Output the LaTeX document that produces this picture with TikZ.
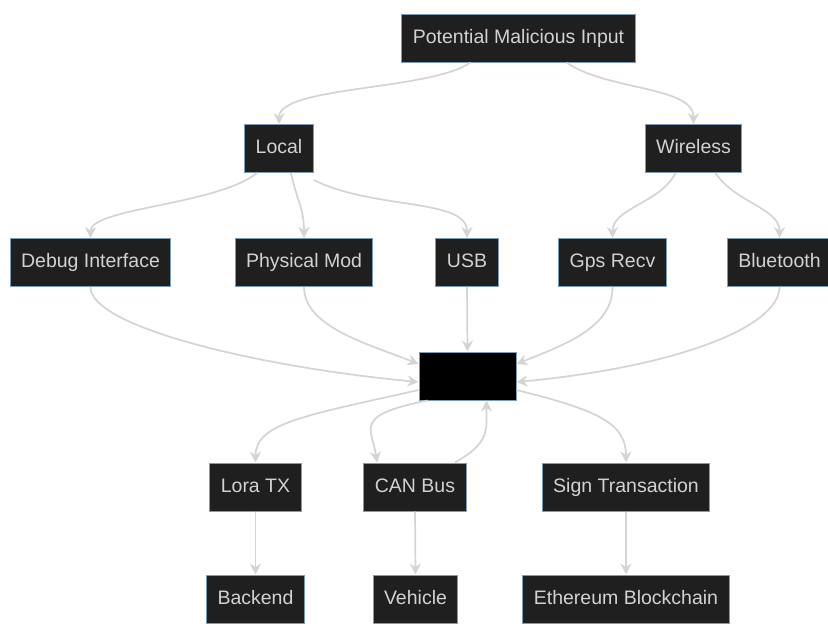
\documentclass[tikz,border=0pt]{standalone}
\usepackage{fontspec}
\setmainfont{Liberation Sans}
\usetikzlibrary{arrows.meta}
\definecolor{boxfill}{HTML}{1F1F1F}
\definecolor{boxline}{HTML}{7C9CBC}
\definecolor{boxtext}{HTML}{D2D2D2}
\definecolor{edgecol}{HTML}{D4D4D4}
\tikzset{
  box/.style={draw=boxline, line width=1pt, fill=boxfill, text=boxtext,
    font=\fontsize{19.5}{23}\selectfont, minimum height=48pt, inner xsep=11pt,
    inner ysep=0pt, text height=14pt, text depth=4pt, anchor=center},
  blackbox/.style={draw=boxline, line width=1pt, fill=black, minimum width=97pt, minimum height=48pt},
  edge/.style={draw=edgecol, line width=1.7pt, -{Stealth[length=11pt,width=11pt]}}
}
\begin{document}
\begin{tikzpicture}[x=1pt,y=-1pt]
\useasboundingbox[fill=white] (0,0) rectangle (828,624);
\node[box] (pmi) at (518.5,38) {Potential Malicious Input};
\node[box] (local) at (279,148.5) {Local};
\node[box] (wireless) at (693.5,148.5) {Wireless};
\node[box] (debug) at (90.5,262.5) {Debug Interface};
\node[box] (phys) at (304,262.5) {Physical Mod};
\node[box] (usb) at (467,262.5) {USB};
\node[box] (gps) at (612.5,262.5) {Gps Recv};
\node[box] (bt) at (779.5,262.5) {Bluetooth};
\node[blackbox] (core) at (467.5,376) {};
\node[box] (lora) at (255.5,487) {Lora TX};
\node[box] (can) at (415,487) {CAN Bus};
\node[box] (sign) at (626,487) {Sign Transaction};
\node[box] (backend) at (255.5,599) {Backend};
\node[box] (vehicle) at (415.5,599) {Vehicle};
\node[box] (eth) at (626,599) {Ethereum Blockchain};

% top level
\draw[edge] ([xshift=-48pt]pmi.south) .. controls +(-40,28) and +(0,-38) .. (local.north);
\draw[edge] ([xshift=48pt]pmi.south) .. controls +(40,28) and +(0,-38) .. (wireless.north);
% local
\draw[edge] ([xshift=-22pt]local.south) .. controls +(-40,32) and +(0,-30) .. (debug.north);
\draw[edge] ([xshift=12pt]local.south) .. controls +(5,25) and +(0,-30) .. (phys.north);
\draw[edge] ([yshift=-7pt]local.south east) .. controls +(60,30) and +(0,-40) .. (usb.north);
% wireless
\draw[edge] ([xshift=-18pt]wireless.south) .. controls +(-15,30) and +(0,-30) .. (gps.north);
\draw[edge] ([xshift=22pt]wireless.south) .. controls +(20,30) and +(0,-30) .. (bt.north);
% into core
\draw[edge] (debug.south) .. controls +(0,40) and +(-160,-15) .. ([yshift=-6pt]core.west);
\draw[edge] (phys.south) .. controls +(0,40) and +(-50,-20) .. ([yshift=12pt]core.west);
\draw[edge] (usb.south) -- (core.north);
\draw[edge] (gps.south) .. controls +(0,40) and +(50,-20) .. ([yshift=12pt]core.east);
\draw[edge] (bt.south) .. controls +(0,40) and +(160,-15) .. ([yshift=-6pt]core.east);
% out of core
\draw[edge] ([yshift=-14pt]core.west) .. controls +(-110,25) and +(0,-40) .. (lora.north);
\draw[edge] ([xshift=-40pt]core.south) .. controls +(-75,15) and +(-5,-35) .. ([xshift=-38pt]can.north);
\draw[edge] ([xshift=40pt]can.north) .. controls +(35,-20) and +(0,30) .. ([xshift=19pt]core.south);
\draw[edge] ([yshift=-14pt]core.east) .. controls +(80,20) and +(0,-40) .. (sign.north);
% bottom
\draw[edge] (lora.south) -- (backend.north);
\draw[edge] (can.south) -- (vehicle.north);
\draw[edge] (sign.south) -- (eth.north);
\end{tikzpicture}
\end{document}
